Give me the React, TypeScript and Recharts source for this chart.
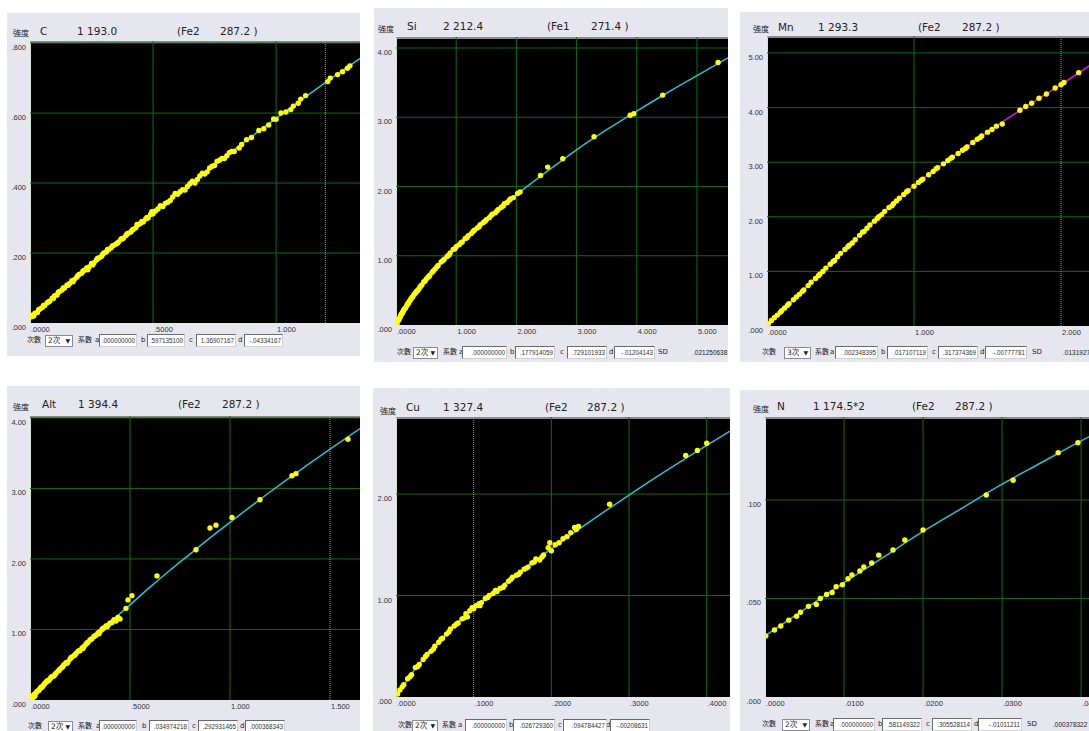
import React from 'react';
import { ScatterChart, Scatter, XAxis, YAxis, ReferenceLine } from 'recharts';

type P = [number, number];

// ---------- C ----------
const cCurve: P[] = [[0,0.015],[0.1,0.0765],[0.2,0.137],[0.3,0.1965],[0.4,0.255],[0.5,0.3125],[0.6,0.369],[0.7,0.4245],[0.8,0.479],[0.9,0.5325],[1.0,0.585],[1.1,0.6365],[1.2,0.687],[1.342,0.756]];
const cPoints: P[] = [[0.005,0.018],[0.01,0.022],[0.02,0.028],[0.03,0.03],[0.04,0.04],[0.05,0.044],[0.06,0.05],[0.07,0.058],[0.08,0.062],[0.09,0.071],[0.1,0.078],[0.11,0.08],[0.12,0.09],[0.13,0.094],[0.14,0.1],[0.15,0.108],[0.16,0.112],[0.17,0.121],[0.18,0.124],[0.19,0.131],[0.2,0.139],[0.21,0.142],[0.22,0.15],[0.23,0.157],[0.24,0.16],[0.25,0.17],[0.26,0.172],[0.27,0.18],[0.28,0.186],[0.29,0.19],[0.3,0.2],[0.31,0.203],[0.32,0.21],[0.33,0.215],[0.34,0.222],[0.35,0.226],[0.36,0.232],[0.37,0.24],[0.38,0.243],[0.39,0.25],[0.4,0.257],[0.41,0.26],[0.42,0.268],[0.43,0.272],[0.44,0.281],[0.45,0.285],[0.46,0.289],[0.47,0.297],[0.48,0.3],[0.49,0.31],[0.5,0.312],[0.52,0.326],[0.54,0.333],[0.55,0.342],[0.57,0.35],[0.58,0.36],[0.6,0.368],[0.62,0.381],[0.64,0.39],[0.66,0.405],[0.68,0.41],[0.7,0.428],[0.72,0.432],[0.73,0.443],[0.75,0.45],[0.77,0.465],[0.79,0.47],[0.81,0.487],[0.83,0.49],[0.86,0.51],[0.9,0.53],[0.93,0.55],[0.97,0.566],[1.0,0.582],[1.02,0.6],[1.04,0.603],[1.07,0.62],[1.09,0.628],[1.12,0.65],[1.21,0.69],[1.22,0.7],[1.25,0.71],[1.27,0.718],[1.29,0.728],[1.3,0.735],
  [0.015,0.02],[0.035,0.038],[0.055,0.05],[0.075,0.06],[0.095,0.07],[0.115,0.088],[0.135,0.1],[0.155,0.108],[0.175,0.118],[0.195,0.136],[0.215,0.148],[0.235,0.152],[0.255,0.166],[0.275,0.185],[0.295,0.196],[0.315,0.21],[0.335,0.22],[0.355,0.228],[0.375,0.24],[0.395,0.255],[0.415,0.265],[0.435,0.282],[0.455,0.29],[0.475,0.302],[0.495,0.318],[0.51,0.32],[0.53,0.335],[0.56,0.345],[0.59,0.37],[0.61,0.375],[0.63,0.38],[0.65,0.398],[0.67,0.4],[0.69,0.42],[0.71,0.426],[0.74,0.448],[0.76,0.462],[0.78,0.47],[0.8,0.478],[0.82,0.49],[0.85,0.5],[0.88,0.524],[0.95,0.555],[0.99,0.583],[1.06,0.61],[1.1,0.64]];
const cXTicks = [0, 0.5, 1.0];
const cXLabels = ['.0000', '.5000', '1.000'];
const cYTicks = [0, 0.2, 0.4, 0.6, 0.8];
const cYLabels = ['.000', '.200', '.400', '.600', '.800'];
const cHeader = ['C', '1 193.0', '(Fe2', '287.2 )'];
const cCoef = ['2次', '.000000000', '.597135100', '1.36907167', '-.04334167'];

// ---------- Si ----------
const siCurve: P[] = [[0,0],[0.1,0.17],[0.25,0.38],[0.5,0.66],[0.75,0.91],[1.0,1.13],[1.5,1.52],[2.0,1.88],[2.5,2.21],[3.0,2.53],[3.5,2.82],[4.0,3.09],[4.5,3.35],[5.0,3.6],[5.52,3.86]];
const siPoints: P[] = [[0.02,0.03],[0.04,0.07],[0.06,0.1],[0.08,0.14],[0.1,0.17],[0.12,0.2],[0.15,0.24],[0.18,0.28],[0.2,0.31],[0.22,0.34],[0.25,0.38],[0.28,0.41],[0.3,0.44],[0.33,0.47],[0.36,0.5],[0.4,0.55],[0.43,0.58],[0.46,0.62],[0.5,0.66],[0.53,0.69],[0.56,0.72],[0.6,0.76],[0.65,0.81],[0.7,0.86],[0.75,0.91],[0.8,0.95],[0.85,0.99],[0.9,1.04],[0.95,1.09],[1.0,1.13],[1.05,1.16],[1.1,1.2],[1.15,1.25],[1.2,1.29],[1.25,1.32],[1.3,1.37],[1.35,1.4],[1.4,1.45],[1.45,1.48],[1.5,1.52],[1.55,1.55],[1.6,1.6],[1.65,1.62],[1.7,1.67],[1.75,1.7],[1.8,1.75],[1.85,1.77],[1.9,1.82],[1.95,1.84],[2.02,1.9],[2.06,1.92],[2.4,2.16],[2.52,2.28],[2.77,2.4],[3.29,2.72],[3.89,3.03],[3.95,3.05],[4.43,3.32],[5.35,3.79],
  [0.01,0.02],[0.03,0.06],[0.05,0.08],[0.07,0.12],[0.09,0.16],[0.11,0.18],[0.13,0.22],[0.16,0.25],[0.19,0.3],[0.21,0.32],[0.24,0.36],[0.27,0.4],[0.32,0.46],[0.35,0.49],[0.38,0.52],[0.42,0.57],[0.48,0.63],[0.55,0.7],[0.62,0.78],[0.68,0.84],[0.78,0.93],[0.88,1.01],[0.98,1.1],[1.08,1.19],[1.18,1.26],[1.28,1.35],[1.38,1.42],[1.48,1.5],[1.58,1.58],[1.68,1.65],[1.78,1.72],[1.88,1.8]];
const siXTicks = [0, 1, 2, 3, 4, 5];
const siXLabels = ['.0000', '1.000', '2.000', '3.000', '4.000', '5.000'];
const siYTicks = [0, 1, 2, 3, 4];
const siYLabels = ['.000', '1.00', '2.00', '3.00', '4.00'];
const siHeader = ['Si', '2 212.4', '(Fe1', '271.4 )'];
const siCoef = ['2次', '.000000000', '.177914059', '.729101933', '-.01204143'];
const siSD = '.021250638';

// ---------- Mn ----------
const mnCurve: P[] = [[0,0],[0.1,0.27],[0.25,0.67],[0.5,1.32],[0.75,1.98],[1.0,2.57],[1.25,3.07],[1.5,3.55],[1.75,4.0],[2.0,4.42],[2.2,4.78]];
const mnPoints: P[] = [[0.01,0.04],[0.03,0.1],[0.07,0.2],[0.1,0.28],[0.12,0.33],[0.15,0.41],[0.18,0.48],[0.2,0.53],[0.22,0.58],[0.25,0.66],[0.28,0.74],[0.3,0.8],[0.33,0.87],[0.36,0.95],[0.38,1.0],[0.4,1.06],[0.43,1.13],[0.46,1.2],[0.48,1.27],[0.5,1.33],[0.53,1.4],[0.56,1.48],[0.58,1.52],[0.6,1.58],[0.63,1.66],[0.66,1.73],[0.68,1.79],[0.7,1.85],[0.73,1.92],[0.76,2.0],[0.78,2.04],[0.8,2.1],[0.83,2.17],[0.86,2.24],[0.88,2.29],[0.9,2.34],[0.93,2.41],[0.96,2.48],[1.0,2.56],[1.03,2.63],[1.06,2.69],[1.1,2.77],[1.13,2.83],[1.16,2.9],[1.2,2.97],[1.23,3.03],[1.26,3.09],[1.3,3.16],[1.33,3.22],[1.36,3.28],[1.4,3.36],[1.43,3.42],[1.46,3.48],[1.5,3.55],[1.53,3.6],[1.56,3.66],[1.6,3.7],[1.72,3.95],[1.76,4.02],[1.8,4.08],[1.85,4.17],[1.9,4.25],[1.96,4.36],[2.0,4.42],[2.02,4.46],[2.12,4.64],
  [0.05,0.15],[0.09,0.25],[0.14,0.38],[0.24,0.63],[0.35,0.92],[0.45,1.18],[0.55,1.45],[0.65,1.72],[0.75,1.97],[0.85,2.2],[0.95,2.46],[1.05,2.67],[1.15,2.88],[1.25,3.07],[1.35,3.25],[1.45,3.45]];
const mnXTicks = [0, 1, 2];
const mnXLabels = ['.0000', '1.000', '2.000'];
const mnYTicks = [0, 1, 2, 3, 4, 5];
const mnYLabels = ['.000', '1.00', '2.00', '3.00', '4.00', '5.00'];
const mnHeader = ['Mn', '1 293.3', '(Fe2', '287.2 )'];
const mnCoef = ['3次', '.002348395', '.017107119', '.317374369', '-.00777781'];
const mnSD = '.01319270';

// ---------- Alt ----------
const alCurve: P[] = [[0,0],[0.1,0.3],[0.2,0.58],[0.3,0.85],[0.4,1.1],[0.5,1.35],[0.6,1.6],[0.7,1.84],[0.8,2.07],[0.9,2.3],[1.0,2.52],[1.2,2.95],[1.4,3.36],[1.65,3.85]];
const alPoints: P[] = [[0.005,0.02],[0.01,0.05],[0.015,0.04],[0.02,0.08],[0.025,0.06],[0.03,0.1],[0.04,0.13],[0.05,0.16],[0.06,0.18],[0.07,0.22],[0.08,0.25],[0.09,0.27],[0.1,0.3],[0.11,0.33],[0.12,0.34],[0.13,0.38],[0.14,0.41],[0.15,0.44],[0.16,0.46],[0.17,0.5],[0.18,0.53],[0.19,0.54],[0.2,0.58],[0.21,0.61],[0.22,0.63],[0.23,0.66],[0.24,0.69],[0.25,0.7],[0.26,0.74],[0.27,0.76],[0.28,0.79],[0.29,0.82],[0.3,0.85],[0.31,0.87],[0.32,0.9],[0.33,0.92],[0.34,0.95],[0.35,0.97],[0.36,1.0],[0.37,1.02],[0.38,1.05],[0.39,1.06],[0.4,1.09],[0.42,1.14],[0.44,1.17],[0.48,1.3],[0.49,1.42],[0.51,1.48],[0.635,1.76],[0.83,2.13],[0.9,2.44],[0.93,2.48],[1.01,2.59],[1.15,2.84],[1.31,3.18],[1.33,3.21],[1.59,3.7],
  [0.012,0.03],[0.022,0.05],[0.035,0.12],[0.045,0.14],[0.055,0.18],[0.065,0.2],[0.075,0.24],[0.085,0.27],[0.095,0.28],[0.105,0.32],[0.125,0.36],[0.145,0.42],[0.165,0.48],[0.185,0.52],[0.205,0.6],[0.225,0.64],[0.245,0.7],[0.265,0.73],[0.285,0.81],[0.305,0.86],[0.325,0.91],[0.345,0.94],[0.365,1.02],[0.385,1.04],[0.41,1.1],[0.43,1.12],[0.45,1.15]];
const alXTicks = [0, 0.5, 1.0, 1.5];
const alXLabels = ['.0000', '.5000', '1.000', '1.500'];
const alYTicks = [0, 1, 2, 3, 4];
const alYLabels = ['.000', '1.00', '2.00', '3.00', '4.00'];
const alHeader = ['Alt', '1 394.4', '(Fe2', '287.2 )'];
const alCoef = ['2次', '.000000000', '.034974218', '.292931465', '.000368343'];

// ---------- Cu ----------
const cuCurve: P[] = [[0,0],[0.025,0.28],[0.05,0.5],[0.075,0.7],[0.1,0.87],[0.15,1.18],[0.2,1.46],[0.25,1.73],[0.3,1.99],[0.35,2.24],[0.4,2.48],[0.43,2.62]];
const cuPoints: P[] = [[0.002,0.03],[0.005,0.07],[0.01,0.12],[0.015,0.18],[0.02,0.22],[0.025,0.29],[0.03,0.32],[0.035,0.37],[0.04,0.42],[0.045,0.45],[0.05,0.5],[0.055,0.54],[0.06,0.58],[0.065,0.62],[0.07,0.67],[0.075,0.7],[0.08,0.73],[0.085,0.77],[0.09,0.82],[0.092,0.79],[0.095,0.85],[0.1,0.87],[0.103,0.9],[0.107,0.92],[0.11,0.93],[0.115,0.97],[0.12,1.0],[0.125,1.02],[0.13,1.04],[0.134,1.07],[0.14,1.1],[0.145,1.14],[0.15,1.18],[0.155,1.2],[0.16,1.23],[0.165,1.26],[0.17,1.28],[0.175,1.32],[0.18,1.36],[0.185,1.35],[0.19,1.4],[0.196,1.47],[0.2,1.44],[0.205,1.5],[0.21,1.52],[0.225,1.62],[0.23,1.67],[0.235,1.68],[0.275,1.9],[0.373,2.38],[0.388,2.43],[0.4,2.5],
  [0.008,0.1],[0.018,0.2],[0.028,0.3],[0.038,0.4],[0.048,0.47],[0.058,0.57],[0.068,0.64],[0.078,0.72],[0.088,0.78],[0.098,0.88],[0.108,0.9],[0.118,0.98],[0.128,1.05],[0.138,1.08],[0.148,1.16],[0.158,1.21],[0.168,1.27],[0.178,1.33],[0.188,1.38],[0.198,1.52],[0.215,1.56],[0.22,1.58],[0.232,1.65]];
const cuXTicks = [0, 0.1, 0.2, 0.3, 0.4];
const cuXLabels = ['.0000', '.1000', '.2000', '.3000', '.4000'];
const cuYTicks = [0, 1, 2];
const cuYLabels = ['.000', '1.00', '2.00'];
const cuHeader = ['Cu', '1 327.4', '(Fe2', '287.2 )'];
const cuCoef = ['2次', '.000000000', '.026729360', '.094784427', '-.00208631'];

// ---------- N ----------
const nCurve: P[] = [[0,0.031],[0.005,0.0445],[0.01,0.058],[0.015,0.071],[0.02,0.084],[0.025,0.096],[0.03,0.108],[0.035,0.119],[0.04,0.13],[0.0412,0.1325]];
const nPoints: P[] = [[0.0001,0.031],[0.0012,0.034],[0.002,0.036],[0.003,0.039],[0.004,0.041],[0.0045,0.043],[0.0055,0.046],[0.0065,0.047],[0.007,0.05],[0.0078,0.052],[0.0085,0.053],[0.009,0.056],[0.0098,0.057],[0.0105,0.06],[0.011,0.062],[0.012,0.064],[0.0125,0.066],[0.0135,0.068],[0.0144,0.072],[0.0162,0.0746],[0.0177,0.0797],[0.02,0.0848],[0.028,0.1025],[0.0314,0.11],[0.0371,0.124],[0.0396,0.129]];
const nXTicks = [0, 0.01, 0.02, 0.03, 0.04];
const nXLabels = ['.0000', '.0100', '.0200', '.0300', '.0400'];
const nYTicks = [0, 0.05, 0.1];
const nYLabels = ['.000', '.050', '.100'];
const nHeader = ['N', '1 174.5*2', '(Fe2', '287.2 )'];
const nCoef = ['2次', '.000000000', '.581149322', '.305528114', '-.01011211'];
const nSD = '.000378322';

// ---------- styling / layout ----------
const BG = '#e6e6ef';
const GREEN = '#0e6e0e';
const YELLOW = '#ffff00';
const CYAN = '#22c4d4';
const MAGENTA = '#e010e0';
const FONT = '"DejaVu Sans", "Noto Sans CJK JP", sans-serif';
const NUMFONT = '"Liberation Sans", Arial, sans-serif';

type Row = { y: number; lab: number[]; sel: [number, number]; boxes: [number, number][]; sd?: number; val?: number; sdText?: string };
type Cfg = {
  box: { l: number; t: number; r: number; b: number };
  plot: { l: number; t: number; r: number; b: number };
  xDomain: [number, number]; yDomain: [number, number];
  xTicks: number[]; xLabels: string[]; yTicks: number[]; yLabels: string[];
  greenX: number[]; greyX: number[]; greenY: number[];
  points: P[]; curve: P[]; lineColor: string;
  header: string[]; hx: number[]; hy: number; kx: number; ky: number;
  coef: string[]; row: Row;
};

const panels: Cfg[] = [
  {
    box: { l: 7, t: 13, r: 360, b: 356 }, plot: { l: 30, t: 41, r: 360, b: 323 },
    xDomain: [0, 1.341], yDomain: [0, 0.806],
    xTicks: cXTicks, xLabels: cXLabels, yTicks: cYTicks, yLabels: cYLabels,
    greenX: [0.5, 1.0], greyX: [1.2], greenY: [0.2, 0.4, 0.6, 0.8],
    points: cPoints, curve: cCurve, lineColor: CYAN,
    header: cHeader, hx: [40, 77, 177, 220], hy: 32, kx: 13, ky: 34,
    coef: cCoef,
    row: { y: 341, lab: [27, 78, 95, 141, 189, 238], sel: [45, 73], boxes: [[99, 137], [147, 185], [196, 236], [244, 283]] },
  },
  {
    box: { l: 374, t: 8, r: 728, b: 362 }, plot: { l: 396, t: 37, r: 728, b: 325 },
    xDomain: [0, 5.515], yDomain: [0, 4.159],
    xTicks: siXTicks, xLabels: siXLabels, yTicks: siYTicks, yLabels: siYLabels,
    greenX: [1, 2, 3, 4, 5], greyX: [], greenY: [1, 2, 3, 4],
    points: siPoints, curve: siCurve, lineColor: CYAN,
    header: siHeader, hx: [407, 443, 547, 591], hy: 27, kx: 378, ky: 30,
    coef: siCoef,
    row: { y: 353, lab: [397, 443, 459, 510, 560, 609], sel: [413, 438], boxes: [[462, 507], [515, 555], [567, 607], [614, 655]], sd: 658, val: 693, sdText: siSD },
  },
  {
    box: { l: 740, t: 12, r: 1089, b: 362 }, plot: { l: 767, t: 36, r: 1089, b: 326 },
    xDomain: [0, 2.19], yDomain: [0, 5.311],
    xTicks: mnXTicks, xLabels: mnXLabels, yTicks: mnYTicks, yLabels: mnYLabels,
    greenX: [1], greyX: [2], greenY: [1, 2, 3, 4, 5],
    points: mnPoints, curve: mnCurve, lineColor: MAGENTA,
    header: mnHeader, hx: [778, 818, 918, 962], hy: 28, kx: 753, ky: 30,
    coef: mnCoef,
    row: { y: 353, lab: [762, 815, 830, 881, 932, 980], sel: [784, 811], boxes: [[835, 878], [887, 928], [938, 978], [985, 1027]], sd: 1032, val: 1063, sdText: mnSD },
  },
  {
    box: { l: 7, t: 386, r: 360, b: 731 }, plot: { l: 30, t: 416, r: 360, b: 700 },
    xDomain: [0, 1.65], yDomain: [0, 4.028],
    xTicks: alXTicks, xLabels: alXLabels, yTicks: alYTicks, yLabels: alYLabels,
    greenX: [0.5, 1.0], greyX: [1.5], greenY: [1, 2, 3, 4],
    points: alPoints, curve: alCurve, lineColor: CYAN,
    header: alHeader, hx: [42, 78, 178, 222], hy: 405, kx: 13, ky: 408,
    coef: alCoef,
    row: { y: 727, lab: [28, 78, 96, 142, 192, 240], sel: [48, 73], boxes: [[99, 137], [149, 189], [198, 238], [245, 285]] },
  },
  {
    box: { l: 373, t: 388, r: 730, b: 731 }, plot: { l: 396, t: 417, r: 730, b: 697 },
    xDomain: [0, 0.43], yDomain: [0, 2.759],
    xTicks: cuXTicks, xLabels: cuXLabels, yTicks: cuYTicks, yLabels: cuYLabels,
    greenX: [0.2, 0.3, 0.4], greyX: [0.1], greenY: [1, 2],
    points: cuPoints, curve: cuCurve, lineColor: CYAN,
    header: cuHeader, hx: [406, 443, 545, 587], hy: 408, kx: 380, ky: 412,
    coef: cuCoef,
    row: { y: 726, lab: [398, 442, 458, 509, 558, 606], sel: [412, 438], boxes: [[465, 507], [513, 555], [563, 607], [610, 650]] },
  },
  {
    box: { l: 740, t: 390, r: 1089, b: 731 }, plot: { l: 765, t: 417, r: 1089, b: 697 },
    xDomain: [0, 0.041], yDomain: [0, 0.1421],
    xTicks: nXTicks, xLabels: nXLabels, yTicks: nYTicks, yLabels: nYLabels,
    greenX: [0.01, 0.02, 0.03, 0.04], greyX: [], greenY: [0.05, 0.1],
    points: nPoints, curve: nCurve, lineColor: CYAN,
    header: nHeader, hx: [777, 813, 912, 955], hy: 407, kx: 753, ky: 410,
    coef: nCoef,
    row: { y: 725, lab: [762, 815, 830, 878, 926, 974], sel: [782, 810], boxes: [[833, 875], [882, 922], [932, 972], [978, 1022]], sd: 1027, val: 1053, sdText: nSD },
  },
];

const rowLabels = ['次數', '系數', 'a', 'b', 'c', 'd'];

function Panel({ cfg }: { cfg: Cfg }) {
  const { box, plot } = cfg;
  const W = box.r - box.l;
  const H = box.b - box.t;
  const pl = plot.l - box.l;
  const pt = plot.t - box.t;
  const pb = plot.b - box.t;
  const pts = cfg.points.map(([x, y]) => ({ x, y }));
  const crv = cfg.curve.map(([x, y]) => ({ x, y }));
  const txt = (x: number, y: number, s: string, size: number, key: string, fam: string = FONT) => (
    <div key={key} style={{ position: 'absolute', left: x - box.l, top: y - box.t - size * 0.65, fontSize: size, lineHeight: `${size * 1.3}px`, color: '#222', whiteSpace: 'nowrap', fontFamily: fam }}>{s}</div>
  );
  const r = cfg.row;
  return (
    <div style={{ position: 'absolute', left: box.l, top: box.t, width: W, height: H, background: BG, overflow: 'hidden' }}>
      <div style={{ position: 'absolute', left: pl, top: pt, width: plot.r - plot.l, height: plot.b - plot.t, background: '#000', borderTop: '2px solid #8a8a8a', borderLeft: '1px solid #cfe3cf', boxSizing: 'border-box' }} />
      <ScatterChart width={W} height={H} margin={{ top: pt, left: 0, right: box.r - plot.r, bottom: 0 }} style={{ position: 'absolute', left: 0, top: 0 }}>
        <XAxis type="number" dataKey="x" domain={cfg.xDomain} ticks={cfg.xTicks} interval={0} allowDataOverflow height={H - pb} axisLine={false} tickLine={false}
          tick={(p: any) => {
            const i = cfg.xTicks.indexOf(p.payload.value);
            return <text x={p.x + 1} y={pb + 9} fontSize={7.5} fontFamily={NUMFONT} fill="#333" textAnchor="start">{cfg.xLabels[i]}</text>;
          }} />
        <YAxis type="number" dataKey="y" domain={cfg.yDomain} ticks={cfg.yTicks} interval={0} allowDataOverflow width={pl} axisLine={false} tickLine={false}
          tick={(p: any) => {
            const i = cfg.yTicks.indexOf(p.payload.value);
            return <text x={pl - 4} y={p.y + 7} fontSize={7.5} fontFamily={NUMFONT} fill="#333" textAnchor="end">{cfg.yLabels[i]}</text>;
          }} />
        {cfg.greenY.map((v) => <ReferenceLine key={'gy' + v} y={v} stroke={GREEN} strokeWidth={1} />)}
        {cfg.greenX.map((v) => <ReferenceLine key={'gx' + v} x={v} stroke={GREEN} strokeWidth={1} />)}
        {cfg.greyX.map((v) => <ReferenceLine key={'rx' + v} x={v} stroke="#a0a0a0" strokeWidth={1} strokeDasharray="1 1" />)}
        <Scatter data={crv} isAnimationActive={false} line={{ stroke: cfg.lineColor, strokeWidth: 1.5 }} lineJointType="monotoneX" shape={() => <g />} />
        <Scatter data={pts} isAnimationActive={false} shape={(p: any) => <circle cx={p.cx} cy={p.cy} r={2.7} fill={YELLOW} />} />
      </ScatterChart>
      {txt(cfg.kx, cfg.ky, '強度', 8, 'k')}
      {cfg.header.map((s, i) => txt(cfg.hx[i], cfg.hy, s, 10.5, 'h' + i))}
      {rowLabels.map((s, i) => txt(r.lab[i], r.y, s, i < 2 ? 7 : 7, 'l' + i))}
      <div style={{ position: 'absolute', left: r.sel[0] - box.l, top: r.y - box.t - 6, width: r.sel[1] - r.sel[0], height: 12, background: '#fff', border: '1px solid #8a8a99', boxSizing: 'border-box', fontSize: 7.5, lineHeight: '10px', fontFamily: FONT, color: '#222', paddingLeft: 2 }}>
        {cfg.coef[0]}<span style={{ position: 'absolute', right: 2, top: 0, fontSize: 6 }}>▼</span>
      </div>
      {r.boxes.map(([a, b], i) => (
        <div key={'b' + i} style={{ position: 'absolute', left: a - box.l, top: r.y - box.t - 7, width: b - a, height: 13, background: '#fff', borderTop: '1px solid #6a6a6a', borderLeft: '1px solid #6a6a6a', borderRight: '1px solid #d0d0d0', borderBottom: '1px solid #d0d0d0', boxSizing: 'border-box', fontSize: 6.3, lineHeight: '11px', fontFamily: NUMFONT, color: '#333', textAlign: 'right', paddingRight: 1, whiteSpace: 'nowrap', overflow: 'hidden' }}>
          {cfg.coef[i + 1]}
        </div>
      ))}
      {r.sd !== undefined && txt(r.sd, r.y, 'SD', 7, 'sd')}
      {r.sdText && r.val !== undefined && txt(r.val, r.y, r.sdText, 6.5, 'sv', NUMFONT)}
    </div>
  );
}

export default function App() {
  return (
    <div style={{ position: 'absolute', left: 0, top: 0, width: 1089, height: 731, background: '#fff', overflow: 'hidden' }}>
      {panels.map((c, i) => <Panel key={i} cfg={c} />)}
    </div>
  );
}
